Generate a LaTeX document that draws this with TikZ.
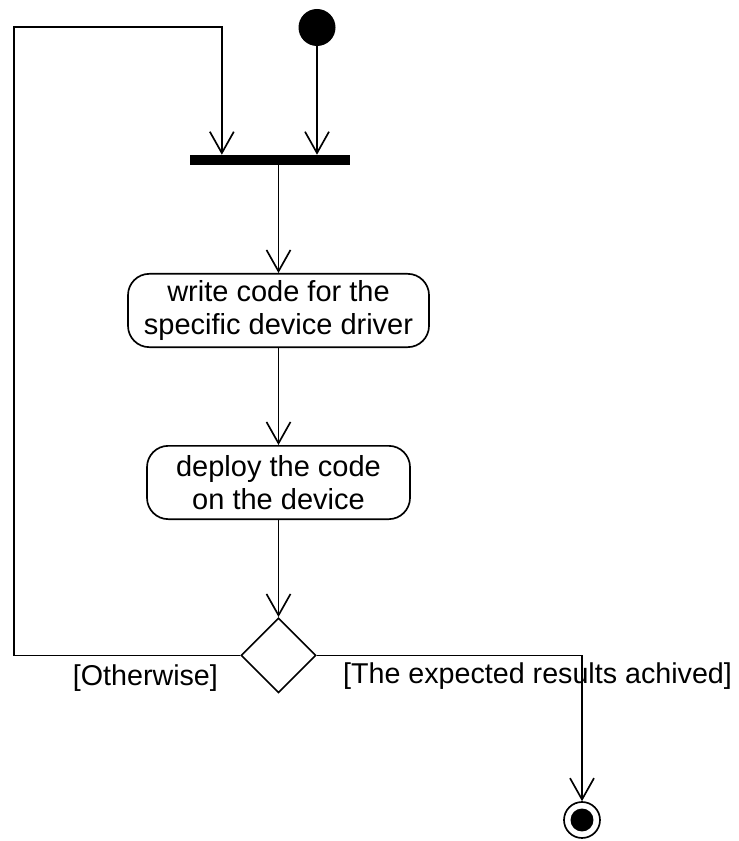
\documentclass[tikz,border=0pt]{standalone}
\usepackage{fontspec}
\setmainfont{Liberation Sans}
\usetikzlibrary{shapes.geometric, arrows.meta, positioning, calc}

\begin{document}
\begin{tikzpicture}[
  x=0.75pt, y=-0.75pt,
  startnode/.style={
    circle, fill=black, inner sep=0pt,
    minimum size=27.75pt
  },
  forkbar/.style={
    fill=black, inner sep=0pt,
    minimum width=120pt, minimum height=7.5pt
  },
  actbox/.style={
    draw, line width=1.25pt,
    rounded corners=16pt, align=center,
    inner sep=0pt, minimum height=55pt,
    font=\fontsize{21.75}{24.75}\selectfont
  },
  decnode/.style={
    diamond, draw, line width=1.25pt, inner sep=0pt,
    minimum width=56.25pt, minimum height=56.25pt
  },
  endnode/.style={
    circle, draw, line width=1.25pt, inner sep=0pt,
    minimum size=27pt,
    path picture={\fill (path picture bounding box.center) circle (8.6pt);}
  },
  guard/.style={font=\fontsize{21.5}{24}\selectfont, inner sep=0pt},
  arr/.style={-{Straight Barb[length=16pt, width=18pt]}, line width=1.25pt},
  node distance=72.75pt
]
\useasboundingbox (0,0) rectangle (738,841);

%% ═══ START / FORK ═══
\node[startnode] (init) at (317,27.5) {};
\node[forkbar] (fork) at (270,160) {};
\draw[arr] (init) -- (init |- fork.north);

%% ═══ ACTIONS ═══
\node[actbox, minimum width=225.75pt] (write) at (278.5,310.5)
  {write code for the\\specific device driver};
\draw[arr] (write |- fork.south) -- (write);

\node[actbox, minimum width=197.25pt, below=of write] (deploy)
  {deploy the code\\on the device};
\draw[arr] (write) -- (deploy);

%% ═══ DECISION ═══
\node[decnode, below=of deploy] (check) {};
\draw[arr] (deploy) -- (check);

\node[guard, anchor=base east] (otherwise) at ([shift={(-22,30)}]check.west)
  {[Otherwise]};
\node[guard, anchor=base west] (achieved) at ([shift={(26,28)}]check.east)
  {[The expected results achived]};

%% ═══ LOOP BACK ═══
\coordinate (loopcorner) at (14,27);
\coordinate (loopin) at ($(fork.north west)!0.2!(fork.north east)$);
\draw[arr] (check.west) -| (loopcorner) -| (loopin);

%% ═══ END ═══
\node[endnode] (final) at (582,820) {};
\draw[arr] (check.east) -| (final);

\end{tikzpicture}
\end{document}
